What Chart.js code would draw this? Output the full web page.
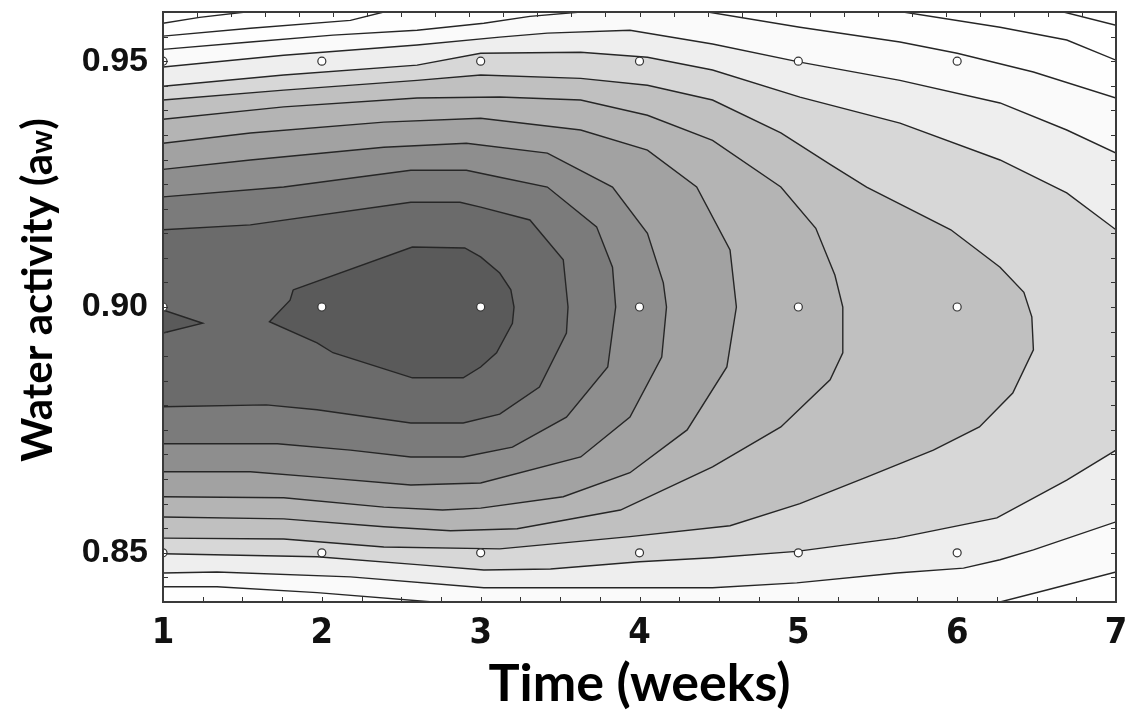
<!DOCTYPE html>
<html>
<head>
<meta charset="utf-8">
<title>Water activity contour</title>
<script src="https://cdn.jsdelivr.net/npm/chart.js@4.4.1/dist/chart.umd.min.js"></script>
<style>
  html, body { margin: 0; padding: 0; background: #fff; }
  canvas { display: block; }
</style>
</head>
<body>
<canvas id="grafico_contorno" width="1126" height="718"></canvas>
<script>
const ctx = document.getElementById('grafico_contorno');

const X_MIN = 1, X_MAX = 7, Y_MIN = 0.84, Y_MAX = 0.96;

const xTicks = [1, 2, 3, 4, 5, 6, 7];
const yTicks = [0.85, 0.90, 0.95];

// measured points of the design (white dots)
const sampleWeeks = [1, 2, 3, 4, 5, 6];
const sampleAw = [0.85, 0.90, 0.95];

// contour lines, [weeks, aw], darkest level first
const c1 = [[1.82,0.9035],[2.57,0.9122],[2.90,0.9120],[3.00,0.9102],[3.12,0.9069],[3.19,0.9035],[3.21,0.9000],[3.20,0.8967],[3.10,0.8907],[3.00,0.8878],[2.89,0.8856],[2.57,0.8856],[2.07,0.8907],[1.97,0.8927],[1.67,0.8970],[1.80,0.9014],[1.82,0.9035]];
const c1b = [[1,0.8994],[1.25,0.8967],[1,0.8947]];
const c2 = [[1,0.9157],[1.55,0.9167],[2.56,0.9213],[2.87,0.9213],[3.00,0.9203],[3.31,0.9177],[3.52,0.9096],[3.55,0.9000],[3.54,0.8947],[3.37,0.8837],[3.12,0.8782],[2.89,0.8764],[2.56,0.8764],[1.97,0.8791],[1.65,0.8801],[1,0.8797]];
const c3 = [[1,0.9224],[1.76,0.9244],[2.56,0.9278],[2.91,0.9278],[3.12,0.9264],[3.42,0.9244],[3.73,0.9163],[3.83,0.9081],[3.85,0.9000],[3.80,0.8878],[3.54,0.8776],[3.20,0.8715],[2.89,0.8695],[2.56,0.8695],[2.18,0.8709],[1.72,0.8722],[1,0.8722]];
const c4 = [[1,0.9280],[1.55,0.9299],[2.39,0.9325],[2.91,0.9333],[3.42,0.9313],[3.83,0.9244],[4.05,0.9150],[4.15,0.9049],[4.17,0.9000],[4.14,0.8898],[3.94,0.8776],[3.63,0.8695],[3.00,0.8642],[2.56,0.8638],[1.97,0.8654],[1.55,0.8665],[1,0.8665]];
const c5 = [[1,0.9333],[1.55,0.9354],[2.39,0.9376],[3.00,0.9384],[3.63,0.9360],[4.05,0.9319],[4.36,0.9244],[4.57,0.9116],[4.61,0.9000],[4.55,0.8878],[4.30,0.8750],[3.94,0.8663],[3.52,0.8614],[3.00,0.8591],[2.76,0.8587],[2.39,0.8593],[1.76,0.8612],[1,0.8614]];
const c6 = [[1,0.9382],[1.76,0.9407],[2.60,0.9425],[3.12,0.9427],[3.63,0.9421],[4.05,0.9390],[4.46,0.9339],[4.89,0.9244],[5.11,0.9160],[5.23,0.9065],[5.28,0.9000],[5.28,0.8907],[5.20,0.8852],[4.89,0.8756],[4.46,0.8675],[3.88,0.8587],[3.23,0.8549],[2.81,0.8545],[2.39,0.8553],[1.76,0.8569],[1,0.8573]];
const c7 = [[1,0.9421],[1.76,0.9441],[2.60,0.9461],[3.00,0.9472],[3.63,0.9465],[4.05,0.9451],[4.46,0.9421],[4.89,0.9354],[5.20,0.9290],[5.43,0.9244],[5.96,0.9157],[6.27,0.9081],[6.42,0.9030],[6.47,0.8980],[6.48,0.8913],[6.35,0.8825],[6.14,0.8756],[5.85,0.8709],[5.43,0.8654],[5.01,0.8600],[4.57,0.8555],[3.94,0.8533],[3.12,0.8508],[2.39,0.8512],[1.76,0.8528],[1,0.8530]];
const c8 = [[1,0.9449],[1.76,0.9472],[2.60,0.9492],[3.00,0.9516],[3.63,0.9518],[4.05,0.9508],[4.46,0.9482],[5.01,0.9427],[5.64,0.9374],[6.27,0.9299],[6.69,0.9232],[7,0.9157],[7,0.8709],[6.69,0.8648],[6.25,0.8571],[5.62,0.8530],[4.99,0.8503],[4.46,0.8490],[4.00,0.8482],[3.44,0.8467],[3.02,0.8465],[2.60,0.8476],[1.97,0.8492],[1,0.8498]];
const c9 = [[1,0.9488],[1.76,0.9512],[2.60,0.9533],[3.12,0.9549],[3.42,0.9557],[3.94,0.9563],[4.46,0.9535],[5.01,0.9498],[5.64,0.9461],[6.27,0.9415],[6.69,0.9360],[7,0.9313],[7,0.8563],[6.48,0.8506],[6.27,0.8486],[6.04,0.8469],[5.62,0.8459],[4.99,0.8439],[4.46,0.8429],[3.02,0.8429],[2.18,0.8451],[1.34,0.8461],[1,0.8459]];
const c10 = [[1,0.9524],[1.55,0.9539],[2.07,0.9553],[2.60,0.9563],[3.02,0.9577],[3.31,0.9591],[3.63,0.96],[4.43,0.96],[5.01,0.9569],[5.64,0.9539],[6.00,0.9516],[6.48,0.9478],[7,0.9425],[7,0.8461],[6.57,0.8425],[6.27,0.84],[2.70,0.84],[1.97,0.8419],[1.34,0.8431],[1,0.8431]];
const c11 = [[1,0.9551],[1.55,0.9567],[2.18,0.9583],[2.39,0.96],[5.66,0.96],[6.27,0.9569],[6.69,0.9543],[7,0.9502],[7,0.84],[1,0.84]];
const c12 = [[1,0.9577],[1.23,0.9589],[1.52,0.96],[6.67,0.96],[7,0.9573],[7,0.84],[1,0.84]];

const contours = [c1, c1b, c2, c3, c4, c5, c6, c7, c8, c9, c10, c11, c12];
const shades = ['#5a5a5a', '#5a5a5a', '#6b6b6b', '#7b7b7b', '#8e8e8e', '#a2a2a2', '#b4b4b4',
                '#c0c0c0', '#d7d7d7', '#eeeeee', '#fafafa', '#fefefe', '#ffffff'];

const LINE = '#262626';

const toPts = arr => arr.map(p => ({x: p[0], y: p[1]}));
// segments lying on the plot frame are not contour lines
const onEdge = (a, b) =>
  (a.x === X_MIN && b.x === X_MIN) || (a.x === X_MAX && b.x === X_MAX) ||
  (a.y === Y_MIN && b.y === Y_MIN) || (a.y === Y_MAX && b.y === Y_MAX);

const fillSets = contours.map((c, i) => ({
  data: toPts(c),
  fill: 'shape',
  backgroundColor: shades[i],
  borderWidth: 0,
  pointRadius: 0,
  order: 2 + i
}));

const lineSets = contours.map(c => ({
  data: toPts(c),
  fill: false,
  borderColor: LINE,
  borderWidth: 1.4,
  pointRadius: 0,
  segment: {
    borderColor: s => onEdge(s.p0.parsed, s.p1.parsed) ? 'rgba(0,0,0,0)' : LINE
  },
  order: 1
}));

const dots = [];
sampleAw.forEach(a => sampleWeeks.forEach(w => dots.push({x: w, y: a})));

const dotSet = {
  data: dots,
  showLine: false,
  pointRadius: 4,
  pointBackgroundColor: '#fff',
  pointBorderColor: '#333',
  pointBorderWidth: 1.2,
  clip: 0,
  order: 0
};

const decor = {
  id: 'decor',
  afterDatasetsDraw(chart) {
    const {ctx, chartArea: a, scales: {x, y}} = chart;
    ctx.save();
    ctx.strokeStyle = '#333';
    ctx.lineWidth = 1;
    ctx.beginPath();
    for (let k = 0; k <= 24; k++) {
      const py = Math.round(y.getPixelForValue(Y_MIN + k * 0.005)) + 0.5;
      ctx.moveTo(a.left, py); ctx.lineTo(a.left + 5, py);
      ctx.moveTo(a.right, py); ctx.lineTo(a.right - 5, py);
    }
    for (let k = 0; k <= 24; k++) {
      const px = Math.round(x.getPixelForValue(X_MIN + k * 0.25)) + 0.5;
      ctx.moveTo(px, a.bottom); ctx.lineTo(px, a.bottom - 5);
    }
    for (let k = 0; k <= 28; k++) {
      const px = Math.round(x.getPixelForValue(X_MIN + k * 6 / 28)) + 0.5;
      ctx.moveTo(px, a.top); ctx.lineTo(px, a.top + 5);
    }
    ctx.stroke();
    ctx.lineWidth = 2;
    ctx.strokeStyle = '#3a3a3a';
    ctx.strokeRect(a.left, a.top, a.right - a.left, a.bottom - a.top);
    ctx.restore();
  },
  afterDraw(chart) {
    const {ctx, chartArea: a} = chart;
    ctx.save();
    ctx.fillStyle = '#000';
    ctx.textBaseline = 'alphabetic';
    ctx.textAlign = 'center';
    ctx.font = 'bold 52px Lato, "Open Sans", sans-serif';
    ctx.fillText('Time (weeks)', (a.left + a.right) / 2, 701);

    // y title with the small w of a_w
    const big = 'bold 42px Lato, "Open Sans", sans-serif';
    const small = 'bold 30px Lato, "Open Sans", sans-serif';
    const parts = [['Water activity (a', big], ['w', small], [')', big]];
    let total = 0;
    parts.forEach(p => { ctx.font = p[1]; total += ctx.measureText(p[0]).width; });
    ctx.translate(52, 290);
    ctx.rotate(-Math.PI / 2);
    ctx.textAlign = 'left';
    let cx = -total / 2;
    parts.forEach(p => {
      ctx.font = p[1];
      ctx.fillText(p[0], cx, 0);
      cx += ctx.measureText(p[0]).width;
    });
    ctx.restore();
  }
};

const config = {
  type: 'line',
  data: { datasets: [dotSet, ...lineSets, ...fillSets] },
  options: {
    responsive: false,
    animation: false,
    devicePixelRatio: 1,
    events: [],
    layout: { padding: { left: 0, right: 10, top: 12, bottom: 0 } },
    elements: { line: { tension: 0 } },
    plugins: {
      legend: { display: false },
      tooltip: { enabled: false }
    },
    scales: {
      x: {
        type: 'linear',
        min: X_MIN,
        max: X_MAX,
        afterBuildTicks: s => { s.ticks = xTicks.map(v => ({value: v})); },
        afterFit: s => { s.height = 116; s.paddingLeft = 0; s.paddingRight = 0; },
        grid: { display: false, drawTicks: false },
        border: { display: false },
        ticks: {
          color: '#111',
          padding: 10,
          font: { family: "'Liberation Sans Narrow', 'DejaVu Sans Condensed', sans-serif", size: 36, weight: 'bold' },
          callback: v => String(v)
        }
      },
      y: {
        type: 'linear',
        min: Y_MIN,
        max: Y_MAX,
        afterBuildTicks: s => { s.ticks = yTicks.map(v => ({value: v})); },
        afterFit: s => { s.width = 163; s.paddingTop = 0; s.paddingBottom = 0; },
        grid: { display: false, drawTicks: false },
        border: { display: false },
        ticks: {
          color: '#111',
          padding: 15,
          font: { family: "'Liberation Sans', Arial, sans-serif", size: 34, weight: 'bold' },
          callback: v => v.toFixed(2)
        }
      }
    }
  },
  plugins: [decor]
};

new Chart(ctx, config);
</script>
</body>
</html>
